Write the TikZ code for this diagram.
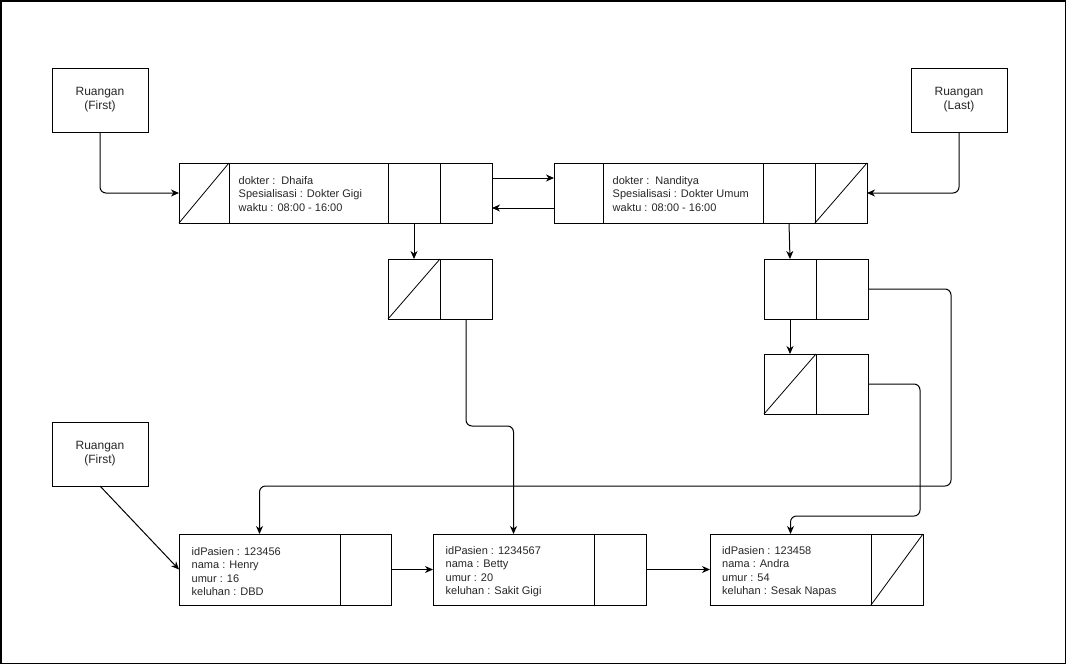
\documentclass[tikz,border=0pt]{standalone}
\usepackage{fontspec}
\setmainfont{Liberation Sans}
\usetikzlibrary{arrows.meta}
\begin{document}
\begin{tikzpicture}[x=1pt,y=-1pt,
  cell/.style={draw, rectangle, inner sep=0pt, outer sep=0pt, anchor=north west, line width=1pt},
  dcell/.style={cell, minimum height=60pt},
  pcell/.style={cell, minimum height=71pt},
  rbox/.style={cell, minimum width=96pt, minimum height=64pt, align=center,
     font=\fontsize{12}{14}\selectfont, text=black!85},
  txt/.style={anchor=west, align=left, inner sep=0pt, font=\fontsize{11}{13.5}\selectfont, text=black!85},
  diag/.style={line width=0.8pt},
  arr/.style={line width=1pt, -{Stealth[length=8pt,width=7pt,inset=2.5pt]}},
  rc/.style={rounded corners=6pt}
]
\useasboundingbox (0,0) rectangle (1068,665);
\draw[line width=1.5pt] (0.75,0.75) rectangle (1065.5,663.5);

% Ruangan boxes
\node[rbox] (rf1) at (52,68) {Ruangan\\(First)};
\node[rbox] (rl) at (911,68) {Ruangan\\(Last)};
\node[rbox] (rf2) at (52,422) {Ruangan\\(First)};

% Doctor node 1
\node[dcell, minimum width=50pt] (d1a) at (179,163) {};
\node[dcell, minimum width=159pt] (d1b) at (229,163) {};
\node[dcell, minimum width=52pt] (d1c) at (388,163) {};
\node[dcell, minimum width=52pt] (d1d) at (440,163) {};
\draw[diag] (d1a.south west) -- (d1a.north east);
\node[txt] (d1t) at ([xshift=9.5pt,yshift=-1pt]d1b.west) {dokter :\ \ Dhaifa\\Spesialisasi : Dokter Gigi\\waktu : 08:00 - 16:00};

% Doctor node 2
\node[dcell, minimum width=49pt] (d2a) at (554,163) {};
\node[dcell, minimum width=160pt] (d2b) at (603,163) {};
\node[dcell, minimum width=52pt] (d2c) at (763,163) {};
\node[dcell, minimum width=52pt] (d2d) at (815,163) {};
\draw[diag] (d2d.south west) -- (d2d.north east);
\node[txt] (d2t) at ([xshift=9.5pt,yshift=-1pt]d2b.west) {dokter :\ \ Nanditya\\Spesialisasi : Dokter Umum\\waktu : 08:00 - 16:00};

% Small nodes
\node[dcell, minimum width=52pt] (r1a) at (388,259) {};
\node[dcell, minimum width=52pt] (r1b) at (440,259) {};
\draw[diag] (r1a.south west) -- (r1a.north east);

\node[dcell, minimum width=52pt] (r2a) at (764,259) {};
\node[dcell, minimum width=52pt] (r2b) at (816,259) {};

\node[dcell, minimum width=52pt] (r3a) at (764,354) {};
\node[dcell, minimum width=52pt] (r3b) at (816,354) {};
\draw[diag] (r3a.south west) -- (r3a.north east);

% Patient nodes
\node[pcell, minimum width=161pt] (p1a) at (179,534) {};
\node[pcell, minimum width=51pt] (p1b) at (340,534) {};
\node[txt] (p1t) at ([xshift=12.5pt,yshift=-2pt]p1a.west) {idPasien : 123456\\nama : Henry\\umur : 16\\keluhan : DBD};

\node[pcell, minimum width=161pt] (p2a) at (433,534) {};
\node[pcell, minimum width=52pt] (p2b) at (594,534) {};
\node[txt] (p2t) at ([xshift=12.5pt,yshift=-2pt]p2a.west) {idPasien : 1234567\\nama : Betty\\umur : 20\\keluhan : Sakit Gigi};

\node[pcell, minimum width=161pt] (p3a) at (710,534) {};
\node[pcell, minimum width=52pt] (p3b) at (871,534) {};
\draw[diag] (p3b.south west) -- (p3b.north east);
\node[txt] (p3t) at ([xshift=12pt,yshift=-2pt]p3a.west) {idPasien : 123458\\nama : Andra\\umur : 54\\keluhan : Sesak Napas};

% Connectors
\draw[arr, rc] (rf1.south) |- (d1a.west);
\draw[arr, rc] (rl.south) |- (d2d.east);
\draw[arr] ([yshift=15pt]d1d.east) -- ([yshift=15pt]d2a.west);
\draw[arr] ([yshift=-15pt]d2a.west) -- ([yshift=-15pt]d1d.east);
\draw[arr] (d1c.south) -- (r1a.north);
\draw[arr] (d2c.south) -- (r2a.north);
\draw[arr] (r2a.south) -- (r3a.north);
\draw[arr, rc] (r1b.south) -- ++(0,107) -| (p2a.north);
\draw[arr, rc] (r2b.east) -- ++(83,0) -- ++(0,197) -| (p1a.north);
\draw[arr, rc] (r3b.east) -- ++(52,0) -- ++(0,132) -| (p3a.north);
\draw[arr] (rf2.south) -- (p1a.west);
\draw[arr] (p1b.east) -- (p2a.west);
\draw[arr] (p2b.east) -- (p3a.west);
\end{tikzpicture}
\end{document}
